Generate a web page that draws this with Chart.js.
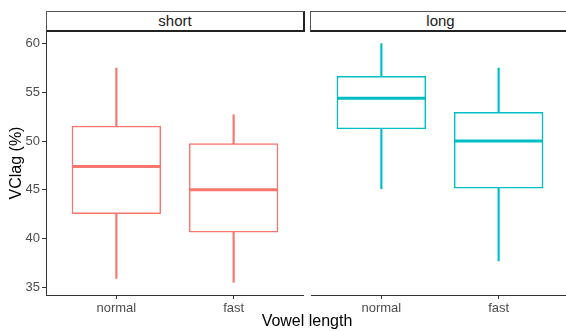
<!DOCTYPE html>
<html><head><meta charset="utf-8">
<script src="https://cdn.jsdelivr.net/npm/chart.js@4"></script>
<style>
html,body{margin:0;padding:0;background:#fff;overflow:hidden;width:566px;height:331px;}
#wrap{position:relative;width:566px;height:331px;overflow:hidden;font-family:'Liberation Sans',Arial,sans-serif;}
canvas{position:absolute;top:0;}
#cShort{left:0;}
#cLong{left:311px;}
.strip{position:absolute;top:11px;height:21px;box-sizing:border-box;border:1px solid #555;border-right:2px solid #222;border-bottom:2px solid #222;background:#fff;text-align:center;font-size:15px;line-height:18px;color:#1a1a1a;z-index:2;}
#sShort{left:46px;width:259px;}
#sLong{left:310px;width:262px;}
#xtitle{position:absolute;left:46px;width:522px;top:313px;text-align:center;font-size:16px;line-height:16px;color:#000;}
</style></head>
<body><div id="wrap">
<canvas id="cShort" width="304" height="331"></canvas>
<canvas id="cLong" width="258" height="331"></canvas>
<div class="strip" id="sShort">short</div>
<div class="strip" id="sLong">long</div>
<div id="xtitle">Vowel length</div>
</div>
<script>
// ---- data ----
const categories = ['normal', 'fast'];
const panels = ['short', 'long'];
const shortMin = [35.9, 35.5];
const shortQ1  = [42.6, 40.7];
const shortMed = [47.4, 45.0];
const shortQ3  = [51.5, 49.7];
const shortMax = [57.5, 52.7];
const longMin  = [45.1, 37.7];
const longQ1   = [51.3, 45.2];
const longMed  = [54.4, 50.0];
const longQ3   = [56.6, 52.9];
const longMax  = [60.0, 57.5];
const yTicks = [35, 40, 45, 50, 55, 60];

const FONT = "'Liberation Sans', Arial, sans-serif";
const Y_MIN = 34.2, Y_MAX = 61.3;

function makeChart(id, color, mins, q1s, meds, q3s, maxs, showY) {
  const xs = categories.map((c, i) => i + 1);
  const whisk = xs.map((x, i) => ({x: x, y: [mins[i], maxs[i]]}));
  const boxes = xs.map((x, i) => ({x: x, y: [q1s[i], q3s[i]]}));
  const meds2 = xs.map((x, i) => ({x: x, y: meds[i]}));
  return new Chart(document.getElementById(id), {
    data: {
      datasets: [
        {type: 'bar', data: whisk, backgroundColor: color, borderWidth: 0, barThickness: 1.5,
         grouped: false, order: 3},
        {type: 'bar', data: boxes, backgroundColor: '#ffffff', borderColor: color, borderWidth: 1.5,
         borderSkipped: false, inflateAmount: 0.75, grouped: false, barPercentage: 0.75,
         categoryPercentage: 1, order: 2},
        {type: 'line', data: meds2, showLine: false, pointStyle: 'line', pointRadius: 44,
         pointHoverRadius: 44, borderColor: color, pointBorderColor: color, pointBorderWidth: 3,
         order: 1}
      ]
    },
    options: {
      responsive: false,
      animation: false,
      events: [],
      layout: {autoPadding: false, padding: {top: 31, left: 0, right: 0, bottom: 0}},
      plugins: {legend: {display: false}, tooltip: {enabled: false}},
      scales: {
        x: {
          type: 'linear', min: 0.4, max: 2.6, offset: false,
          afterBuildTicks: s => { s.ticks = xs.map(v => ({value: v})); },
          afterFit: s => { s.height = 36; },
          ticks: {callback: v => categories[v - 1], color: '#4d4d4d', padding: 2,
                  font: {family: FONT, size: 13}, maxRotation: 0, autoSkip: false},
          grid: {display: true, offset: false, drawOnChartArea: false, drawTicks: true, tickLength: 4,
                 tickColor: '#333', tickWidth: 1},
          border: {display: true, color: '#333', width: 1}
        },
        y: {
          type: 'linear', min: Y_MIN, max: Y_MAX, display: true,
          afterBuildTicks: s => { s.ticks = showY ? yTicks.map(v => ({value: v})) : []; },
          afterFit: s => { s.width = showY ? 46 : 0; },
          ticks: {display: showY, color: '#4d4d4d', padding: 2, font: {family: FONT, size: 13}},
          grid: {display: showY, offset: false, drawOnChartArea: false, drawTicks: showY, tickLength: 4,
                 tickColor: '#333', tickWidth: 1},
          border: {display: showY, color: '#333', width: 1},
          title: {display: showY, text: 'VClag (%)', color: '#000',
                  font: {family: FONT, size: 16}, padding: {top: 7, bottom: 0}}
        }
      }
    }
  });
}

makeChart('cShort', '#F8766D', shortMin, shortQ1, shortMed, shortQ3, shortMax, true);
makeChart('cLong', '#00BFC4', longMin, longQ1, longMed, longQ3, longMax, false);
</script>
</body></html>
